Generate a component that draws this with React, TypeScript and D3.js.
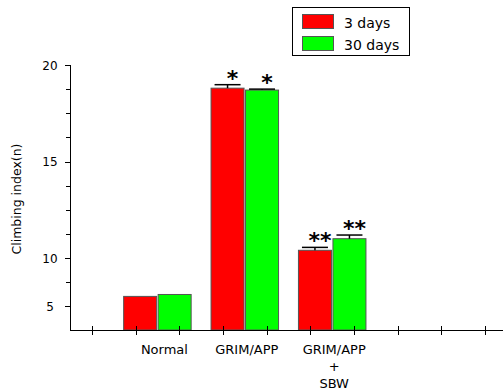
import React from "react";
import * as d3 from "d3";

// values
const categories = ["Normal", "GRIM/APP", "GRIM/APP|+|SBW"];
const days3 = [6.0, 18.8, 10.4];
const days30 = [6.2, 18.7, 11.0];
const err3 = [0, 0.18, 0.15];
const err30 = [0, 0.05, 0.19];
const sig3 = ["", "*", "**"];
const sig30 = ["", "*", "**"];
const yTickLabels = [5, 10, 15, 20];
const yMinorTicks = [7.5, 11.25, 12.5, 13.75, 16.25, 17.5, 18.75];
const seriesNames = ["3 days", "30 days"];
const seriesColors = ["#ff0000", "#00ff00"];

const font = "'DejaVu Sans', Verdana, sans-serif";

export default function App() {
  const width = 503;
  const height = 390;

  // the original axis is not linear below 10, so use a piecewise scale
  const y = d3.scaleLinear().domain([2.5, 5, 10, 20]).range([330, 306, 258, 65]);
  const x = d3.scaleLinear().domain([0, 5]).range([70, 507]);
  const barW = 33;
  const gap = 1.5;
  const xTicks = d3.range(10).map((i) => 0.25 + i * 0.5);

  const series = [
    { values: days3, err: err3, sig: sig3, off: -gap / 2 - barW },
    { values: days30, err: err30, sig: sig30, off: gap / 2 },
  ];

  return (
    <svg width={width} height={height} style={{ display: "block", position: "absolute", left: 0, top: 0 }}>
      <rect width={width} height={height} fill="#fff" />

      {/* y axis */}
      <line x1={70.5} x2={70.5} y1={y(20)} y2={y(2.5)} stroke="#000" />
      {yTickLabels.map((t) => (
        <g key={t}>
          <line x1={65} x2={70.5} y1={Math.round(y(t)) + 0.5} y2={Math.round(y(t)) + 0.5} stroke="#000" />
          <text x={50} y={y(t) + 4.5} fontSize={12} fontFamily={font} textAnchor="middle" fill="#000">
            {t}
          </text>
        </g>
      ))}
      {yMinorTicks.map((t) => (
        <line key={t} x1={66} x2={70.5} y1={Math.round(y(t)) + 0.5} y2={Math.round(y(t)) + 0.5} stroke="#000" />
      ))}
      <text
        transform={`translate(21,${199}) rotate(-90)`}
        fontSize={12.5}
        fontFamily={font}
        textAnchor="middle"
        fill="#000"
      >
        Climbing index(n)
      </text>

      {/* bars */}
      {series.map((s, si) =>
        s.values.map((v, i) => {
          const x0 = x(i + 1) + s.off;
          const top = y(v);
          const cx = x0 + barW / 2;
          const et = y(v + s.err[i]);
          return (
            <g key={`${si}-${i}`}>
              <rect
                x={x0}
                y={top}
                width={barW}
                height={y(2.5) - top}
                fill={seriesColors[si]}
                stroke="#555"
                strokeWidth={1}
              />
              {s.err[i] > 0 && (
                <g stroke="#000" strokeWidth={1.5}>
                  <line x1={cx} x2={cx} y1={top} y2={et} />
                  <line x1={cx - 13} x2={cx + 13} y1={et} y2={et} />
                </g>
              )}
              {s.sig[i] && (
                <text
                  x={cx + 5}
                  y={et + 1}
                  fontSize={22}
                  fontWeight="bold"
                  fontFamily={font}
                  textAnchor="middle"
                  fill="#000"
                >
                  {s.sig[i]}
                </text>
              )}
            </g>
          );
        })
      )}

      {/* x axis */}
      <line x1={70} x2={width} y1={330.5} y2={330.5} stroke="#000" />
      {xTicks.map((t) => (
        <line key={t} x1={Math.round(x(t)) + 0.5} x2={Math.round(x(t)) + 0.5} y1={326} y2={335} stroke="#000" />
      ))}
      {categories.map((c, i) =>
        c.split("|").map((line, li) => (
          <text
            key={`${i}-${li}`}
            x={x(i + 1) + (i === 0 ? 7 : 2)}
            y={354 + li * 17}
            fontSize={13}
            fontFamily={font}
            textAnchor="middle"
            fill="#000"
          >
            {line}
          </text>
        ))
      )}

      {/* legend */}
      <rect x={292.5} y={7.5} width={117} height={48} fill="#fff" stroke="#000" />
      {seriesNames.map((n, i) => (
        <g key={n}>
          <rect x={302.5} y={14.5 + i * 22} width={31} height={14} fill={seriesColors[i]} stroke="#555" />
          <text x={344} y={27.5 + i * 22} fontSize={14} fontFamily={font} fill="#000">
            {n}
          </text>
        </g>
      ))}
    </svg>
  );
}
